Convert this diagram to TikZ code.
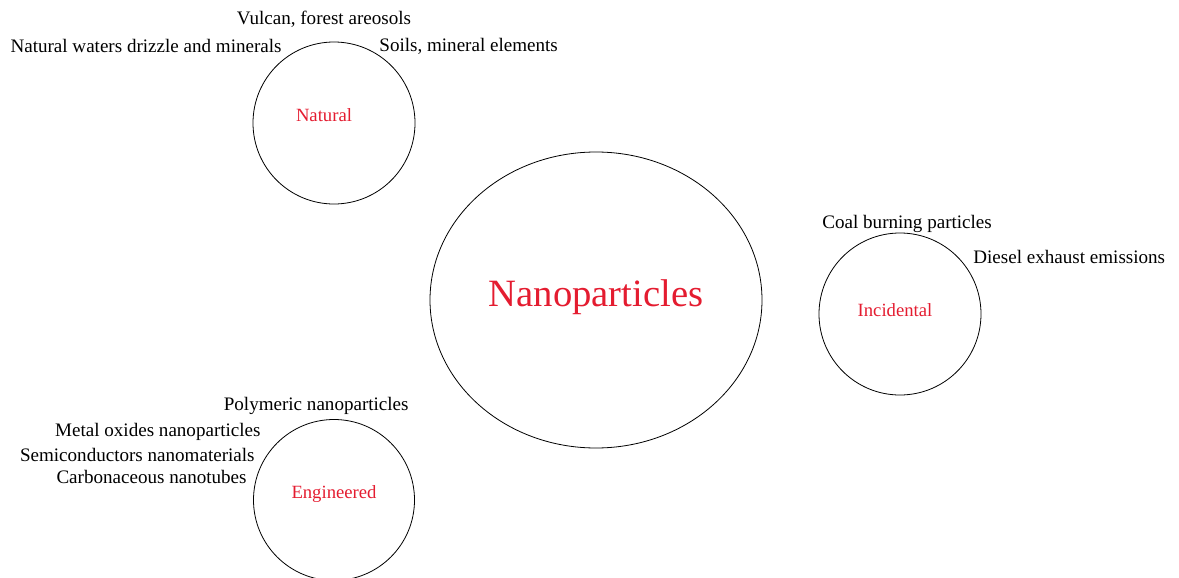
\documentclass[tikz,border=0pt]{standalone}
\usepackage{fontspec}
\setmainfont{Liberation Serif}
\definecolor{catred}{RGB}{228,28,48}
\tikzset{every picture/.style={line width=0.6pt}}
\tikzset{
	srclabel/.style={inner sep=0pt, font=\fontsize{14.3}{16}\selectfont},
	catlabel/.style={inner sep=0pt, text=catred, font=\fontsize{14}{16}\selectfont}
}

\begin{document}
\begin{tikzpicture}[x=0.75pt,y=0.75pt,yscale=-1,xscale=1]
	\useasboundingbox (0,0) rectangle (1179,578);

	%Shape: Ellipse [id:nanoparticles]
	\draw   (596,300) ellipse [x radius=166, y radius=148] ;
	%Shape: Circle [id:natural]
	\draw   (334,123) circle [radius=81] ;
	%Shape: Circle [id:incidental]
	\draw   (900,314) circle [radius=81] ;
	%Shape: Circle [id:engineered]
	\draw   (334,500) circle [radius=80.5] ;

	% Text Node
	\node [catlabel, font=\fontsize{29}{33}\selectfont] (nano) at (596,297) {Nanoparticles};
	% Text Node
	\node [catlabel] (natural) at (324,115) {Natural};
	% Text Node
	\node [catlabel] (incidental) at (895,310) {Incidental};
	% Text Node
	\node [catlabel] (engineered) at (334,494) {Engineered};

	% Text Node
	\node [srclabel] (vulcan) at (324,19) {Vulcan, forest areosols};
	% Text Node
	\node [srclabel, anchor=east] (waters) at (282,46) {Natural waters drizzle and minerals};
	% Text Node
	\node [srclabel, anchor=west] (soils) at (379,46) {Soils, mineral elements};
	% Text Node
	\node [srclabel, anchor=west] (coal) at (822,224) {Coal burning particles};
	% Text Node
	\node [srclabel, anchor=west] (diesel) at (973,257) {Diesel exhaust emissions};
	% Text Node
	\node [srclabel, anchor=east] (polymeric) at (409,406) {Polymeric nanoparticles};
	% Text Node
	\node [srclabel, anchor=east] (metal) at (261,432) {Metal oxides nanoparticles};
	% Text Node
	\node [srclabel, anchor=east] (semi) at (255,455) {Semiconductors nanomaterials};
	% Text Node
	\node [srclabel, anchor=east] (carbon) at (247,477) {Carbonaceous nanotubes};

\end{tikzpicture}
\end{document}
